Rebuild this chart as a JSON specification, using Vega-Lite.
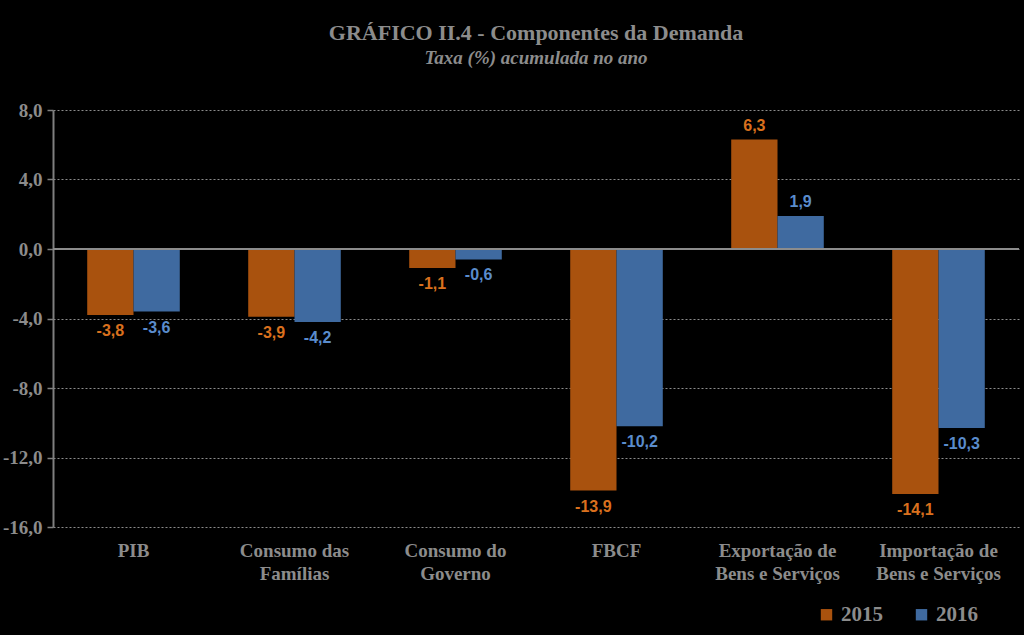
{
  "$schema": "https://vega.github.io/schema/vega-lite/v6.json",
  "autosize": {"type": "fit", "contains": "padding"},
  "width": 1024,
  "height": 635,
  "background": "#000000",
  "padding": {"left": 2, "top": 22, "right": 4, "bottom": 52},
  "title": {
    "text": "GRÁFICO II.4 - Componentes da Demanda",
    "subtitle": "Taxa (%) acumulada no ano",
    "font": "Liberation Serif",
    "fontSize": 22,
    "fontWeight": "bold",
    "color": "#8c8c8c",
    "subtitleFont": "Liberation Serif",
    "subtitleFontSize": 19,
    "subtitleFontStyle": "italic",
    "subtitleFontWeight": "bold",
    "subtitleColor": "#8c8c8c",
    "subtitlePadding": 4,
    "anchor": "middle",
    "offset": 32
  },
  "config": {
    "locale": {"number": {"decimal": ",", "thousands": ".", "grouping": [3], "currency": ["R$", ""], "minus": "-"}},
    "view": {"stroke": null}
  },
  "data": {
    "values": [
      {"cat": "PIB", "ano": "2015", "v": -3.8},
      {"cat": "PIB", "ano": "2016", "v": -3.6},
      {"cat": "Consumo das|Famílias", "ano": "2015", "v": -3.9},
      {"cat": "Consumo das|Famílias", "ano": "2016", "v": -4.2},
      {"cat": "Consumo do|Governo", "ano": "2015", "v": -1.1},
      {"cat": "Consumo do|Governo", "ano": "2016", "v": -0.6},
      {"cat": "FBCF", "ano": "2015", "v": -13.9},
      {"cat": "FBCF", "ano": "2016", "v": -10.2},
      {"cat": "Exportação de|Bens e Serviços", "ano": "2015", "v": 6.3},
      {"cat": "Exportação de|Bens e Serviços", "ano": "2016", "v": 1.9},
      {"cat": "Importação de|Bens e Serviços", "ano": "2015", "v": -14.1},
      {"cat": "Importação de|Bens e Serviços", "ano": "2016", "v": -10.3}
    ]
  },
  "encoding": {
    "x": {
      "field": "cat",
      "type": "nominal",
      "sort": null,
      "scale": {"paddingInner": 0.425, "paddingOuter": 0.2125},
      "axis": {
        "title": null,
        "labelAngle": 0,
        "labelExpr": "split(datum.label, '|')",
        "labelFont": "Liberation Serif",
        "labelFontSize": 19,
        "labelFontWeight": "bold",
        "labelColor": "#8c8c8c",
        "labelLineHeight": 23,
        "labelPadding": 14,
        "domain": false,
        "ticks": false
      }
    },
    "xOffset": {"field": "ano", "type": "nominal"},
    "y": {
      "field": "v",
      "type": "quantitative",
      "scale": {"domain": [-16, 8], "nice": false, "zero": false},
      "axis": {
        "title": null,
        "values": [-16, -12, -8, -4, 0, 4, 8],
        "format": ".1f",
        "labelFont": "Liberation Serif",
        "labelFontSize": 19,
        "labelFontWeight": "bold",
        "labelColor": "#8c8c8c",
        "labelPadding": 5,
        "domainColor": "#7f7f7f",
        "domainWidth": 2,
        "tickColor": "#7f7f7f",
        "tickWidth": 1.5,
        "tickSize": 6,
        "grid": true,
        "gridColor": "#8c8c8c",
        "gridDash": [2, 2],
        "gridWidth": 1
      }
    }
  },
  "layer": [
    {
      "mark": {"type": "bar"},
      "encoding": {
        "color": {
          "field": "ano",
          "type": "nominal",
          "scale": {"domain": ["2015", "2016"], "range": ["#a9520e", "#3f6aa0"]},
          "legend": {
            "title": null,
            "orient": "none",
            "legendX": 763,
            "legendY": 494,
            "direction": "horizontal",
            "symbolType": "square",
            "symbolSize": 130,
            "symbolStrokeWidth": 0,
            "labelFont": "Liberation Serif",
            "labelFontSize": 21,
            "labelFontWeight": "bold",
            "labelColor": "#8c8c8c",
            "columnPadding": 28,
            "padding": 0
          }
        }
      }
    },
    {
      "mark": {"type": "rule", "color": "#8c8c8c", "strokeWidth": 2},
      "encoding": {"y": {"datum": 0}, "x": null, "xOffset": null}
    },
    {
      "transform": [{"filter": "datum.v < 0"}],
      "mark": {"type": "text", "font": "Liberation Sans", "fontSize": 16, "fontWeight": "bold", "baseline": "top", "dy": 8},
      "encoding": {
        "text": {"field": "v", "type": "quantitative", "format": ".1f"},
        "color": {"field": "ano", "type": "nominal", "scale": {"domain": ["2015", "2016"], "range": ["#d9701e", "#5a8ccc"]}, "legend": null}
      }
    },
    {
      "transform": [{"filter": "datum.v >= 0"}],
      "mark": {"type": "text", "font": "Liberation Sans", "fontSize": 16, "fontWeight": "bold", "baseline": "bottom", "dy": -6},
      "encoding": {
        "text": {"field": "v", "type": "quantitative", "format": ".1f"},
        "color": {"field": "ano", "type": "nominal", "scale": {"domain": ["2015", "2016"], "range": ["#d9701e", "#5a8ccc"]}, "legend": null}
      }
    }
  ],
  "resolve": {"scale": {"color": "independent"}}
}
